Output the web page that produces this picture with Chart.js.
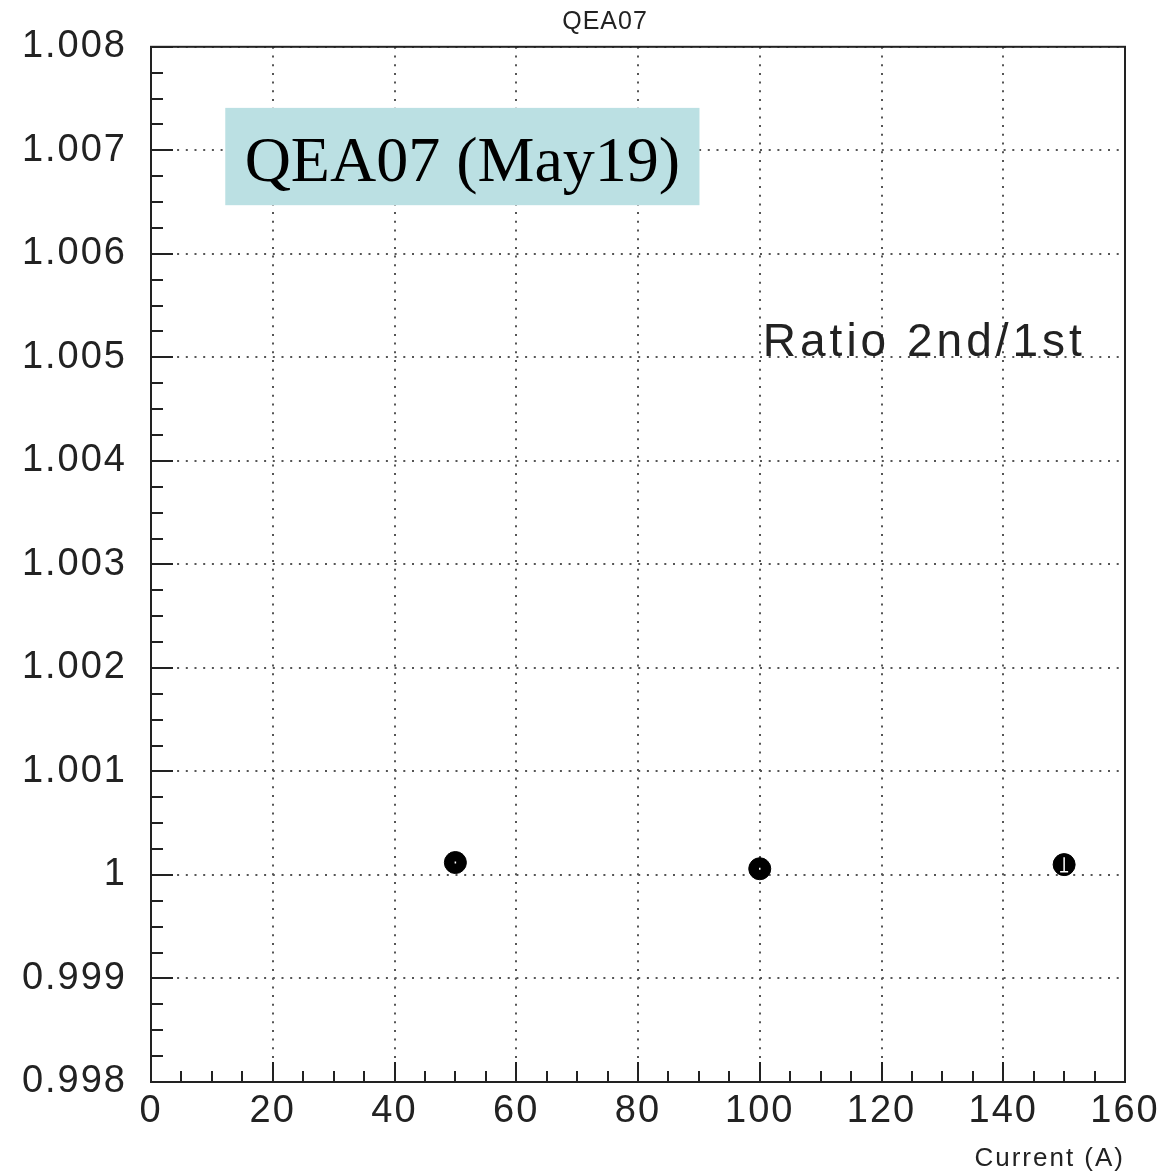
<!DOCTYPE html>
<html>
<head>
<meta charset="utf-8">
<script src="https://cdn.jsdelivr.net/npm/chart.js@4/dist/chart.umd.min.js"></script>
<style>
  body { margin: 0; background: #fff; }
  canvas { display: block; }
</style>
</head>
<body>
<canvas id="ratioChart" width="1166" height="1174"></canvas>
<script>
// measured points: current (A) vs ratio of 2nd / 1st run
const currents = [50, 100, 150]
const ratios = [1.00012, 1.00006, 1.0001]
const ratioErrs = [0.00001, 0.00001, 0.00007]

const xTicks = [0, 20, 40, 60, 80, 100, 120, 140, 160]
const yTicks = [0.998, 0.999, 1, 1.001, 1.002, 1.003, 1.004, 1.005, 1.006, 1.007, 1.008]

const plotTitle = 'QEA07'
const boxLabel = 'QEA07 (May19)'
const noteLabel = 'Ratio 2nd/1st'
const xTitle = 'Current (A)'

const ctx = document.getElementById('ratioChart').getContext('2d')
const axisFont = "'Liberation Sans', Arial, sans-serif"

function fmtY(v) {
  const r = Math.round(v * 1000) / 1000
  return r === 1 ? '1' : r.toFixed(3)
}

// frame, inner ticks, labels and the coloured box
const rootStyle = {
  id: 'rootStyle',
  beforeDraw(chart) {
    chart.ctx.letterSpacing = '2px'
  },
  beforeDatasetsDraw(chart) {
    const c = chart.ctx
    const { x, y } = chart.scales
    const area = chart.chartArea
    c.save()
    // label box (covers the grid)
    const bx1 = x.getPixelForValue(12.2)
    const bx2 = x.getPixelForValue(90.1)
    const by1 = y.getPixelForValue(1.00741)
    const by2 = y.getPixelForValue(1.00647)
    c.fillStyle = '#bbe0e3'
    c.fillRect(bx1, by1, bx2 - bx1, by2 - by1)
    c.letterSpacing = '0px'
    c.fillStyle = '#000'
    c.font = "64px 'Liberation Serif', 'Times New Roman', serif"
    c.textAlign = 'center'
    c.textBaseline = 'alphabetic'
    c.fillText(boxLabel, (bx1 + bx2) / 2, by1 + 73)

    // note text
    c.letterSpacing = '4px'
    c.font = '46px ' + axisFont
    c.fillStyle = '#222'
    c.textAlign = 'left'
    c.fillText(noteLabel, x.getPixelForValue(100.5), y.getPixelForValue(1.005) - 1)

    // frame
    c.strokeStyle = '#222'
    c.lineWidth = 2
    c.strokeRect(area.left, area.top, area.right - area.left, area.bottom - area.top)

    // inner ticks on the x axis
    c.lineWidth = 2
    c.beginPath()
    for (let v = 0; v <= 160; v += 5) {
      const px = Math.round(x.getPixelForValue(v))
      const len = v % 20 === 0 ? 20 : 11
      c.moveTo(px, area.bottom)
      c.lineTo(px, area.bottom - len)
    }
    // inner ticks on the y axis
    for (let i = 0; i <= 40; i++) {
      const v = 0.998 + i * 0.00025
      const py = Math.round(y.getPixelForValue(v))
      const len = i % 4 === 0 ? 22 : 12
      c.moveTo(area.left, py)
      c.lineTo(area.left + len, py)
    }
    c.stroke()

    // title
    c.font = '25px ' + axisFont
    c.textAlign = 'center'
    c.textBaseline = 'middle'
    c.letterSpacing = '1px'
    c.fillStyle = '#222'
    c.fillText(plotTitle, 605, 22)
    c.restore()
  },
  afterDatasetsDraw(chart) {
    // small error bars, shown in white inside the markers
    const c = chart.ctx
    const { x, y } = chart.scales
    c.save()
    c.strokeStyle = '#fff'
    c.lineWidth = 1.5
    c.beginPath()
    currents.forEach((cur, i) => {
      const px = x.getPixelForValue(cur)
      const top = y.getPixelForValue(ratios[i] + ratioErrs[i])
      const bot = y.getPixelForValue(ratios[i] - ratioErrs[i])
      c.moveTo(px, top)
      c.lineTo(px, bot)
      if (ratioErrs[i] > 0.00003) {
        c.moveTo(px - 4, bot)
        c.lineTo(px + 4, bot)
      }
    })
    c.stroke()
    c.restore()
  }
}

const chart = new Chart(ctx, {
  type: 'scatter',
  data: {
    datasets: [{
      data: currents.map((cur, i) => ({ x: cur, y: ratios[i] })),
      backgroundColor: '#000',
      borderColor: '#000',
      borderWidth: 1,
      pointRadius: 11,
      pointHoverRadius: 11
    }]
  },
  options: {
    responsive: false,
    animation: false,
    layout: { padding: { top: 44, right: 41, left: 0, bottom: 0 } },
    plugins: {
      legend: { display: false },
      tooltip: { enabled: false }
    },
    scales: {
      x: {
        type: 'linear',
        min: 0,
        max: 160,
        afterBuildTicks(scale) {
          scale.ticks = xTicks.map((v) => ({ value: v }))
        },
        afterFit(scale) { scale.height = 92 },
        grid: {
          color: '#555',
          lineWidth: 2,
          drawTicks: false
        },
        border: { display: false, dash: [2, 6.7] },
        ticks: {
          padding: 7,
          color: '#222',
          font: { family: axisFont, size: 38 },
          maxRotation: 0
        },
        title: {
          display: true,
          text: xTitle,
          align: 'end',
          color: '#222',
          padding: { top: 0, bottom: 0 },
          font: { family: axisFont, size: 26 }
        }
      },
      y: {
        type: 'linear',
        min: 0.998,
        max: 1.008,
        afterBuildTicks(scale) {
          scale.ticks = yTicks.map((v) => ({ value: v }))
        },
        afterFit(scale) { scale.width = 151 },
        grid: {
          color: '#555',
          lineWidth: 2,
          drawTicks: false
        },
        border: { display: false, dash: [2, 6.7] },
        ticks: {
          padding: 24,
          color: '#222',
          font: { family: axisFont, size: 38 },
          callback: (v) => fmtY(v)
        }
      }
    }
  },
  plugins: [rootStyle]
})
</script>
</body>
</html>
